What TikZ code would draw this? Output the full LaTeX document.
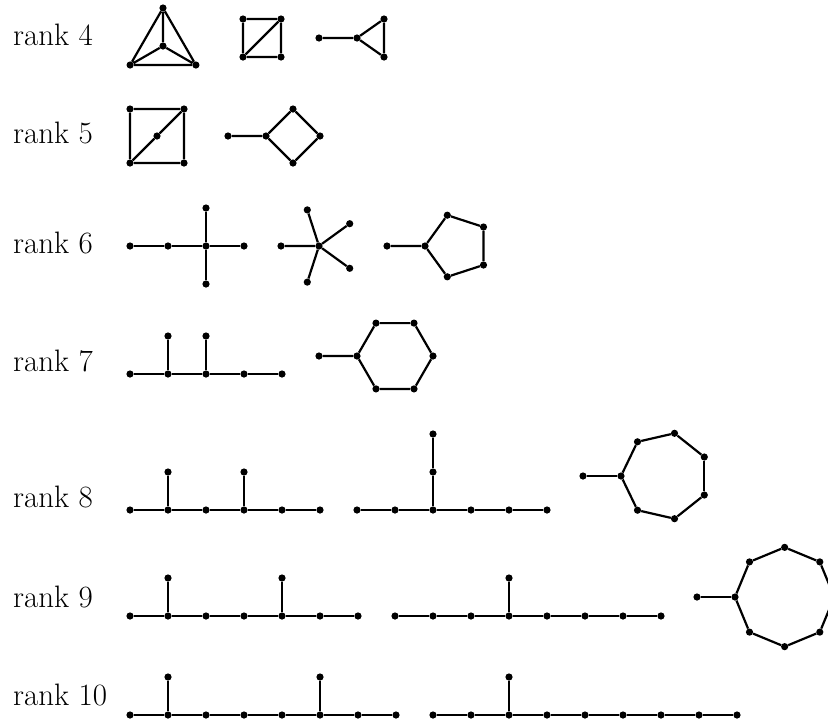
\documentclass[tikz,border=0pt]{standalone}
\tikzset{
  vtx/.style={circle, fill=black, draw=none, inner sep=0pt, minimum size=7.2pt},
  lnk/.style={line width=2.2pt, black},
  lab/.style={anchor=base west, inner sep=0pt, font=\fontsize{31}{37}\selectfont}
}
\begin{document}
\begin{tikzpicture}[x=1pt,y=-1pt]
\clip (0,0) rectangle (828,721);
% labels
\node[lab] (L4) at (13,45) {rank 4};
\node[lab] (L5) at (13,143) {rank 5};
\node[lab] (L6) at (13,253) {rank 6};
\node[lab] (L7) at (13,371) {rank 7};
\node[lab] (L8) at (13,507) {rank 8};
\node[lab] (L9) at (13,607) {rank 9};
\node[lab] (L10) at (13,705) {rank 10};

% ---------- rank 4 ----------
\node[vtx] (a0) at (163,46) {};
\node[vtx] (a1) at (163,8) {};
\node[vtx] (a2) at (130.1,65) {};
\node[vtx] (a3) at (195.9,65) {};
\draw[lnk] (a1)--(a2) (a2)--(a3) (a3)--(a1) (a0)--(a1) (a0)--(a2) (a0)--(a3);

\node[vtx] (b1) at (243,19) {};
\node[vtx] (b2) at (281,19) {};
\node[vtx] (b3) at (281,57) {};
\node[vtx] (b4) at (243,57) {};
\draw[lnk] (b1)--(b2) (b2)--(b3) (b3)--(b4) (b4)--(b1) (b4)--(b2);

\node[vtx] (c0) at (319,38) {};
\node[vtx] (c1) at (357,38) {};
\node[vtx] (c2) at (384,19) {};
\node[vtx] (c3) at (384,57) {};
\draw[lnk] (c0)--(c1) (c1)--(c2) (c2)--(c3) (c3)--(c1);

% ---------- rank 5 ----------
\node[vtx] (d1) at (130,109) {};
\node[vtx] (d2) at (184,109) {};
\node[vtx] (d3) at (184,163) {};
\node[vtx] (d4) at (130,163) {};
\node[vtx] (d0) at (157,136) {};
\draw[lnk] (d1)--(d2) (d2)--(d3) (d3)--(d4) (d4)--(d1) (d4)--(d0) (d0)--(d2);

\node[vtx] (f0) at (228,136) {};
\node[vtx] (f1) at (266,136) {};
\node[vtx] (f2) at (293,109) {};
\node[vtx] (f3) at (320,136) {};
\node[vtx] (f4) at (293,163) {};
\draw[lnk] (f0)--(f1) (f1)--(f2) (f2)--(f3) (f3)--(f4) (f4)--(f1);

% ---------- rank 6 ----------
\foreach \i in {1,...,4} \node[vtx] (g\i) at ({130+38*(\i-1)},246) {};
\node[vtx] (g5) at (206,208) {};
\node[vtx] (g6) at (206,284) {};
\draw[lnk] (g1)--(g2) (g2)--(g3) (g3)--(g4) (g5)--(g3) (g3)--(g6);

\node[vtx] (h0) at (281,246) {};
\node[vtx] (h1) at (319,246) {};
\node[vtx] (h2) at (307.3,209.9) {};
\node[vtx] (h3) at (349.7,223.7) {};
\node[vtx] (h4) at (349.7,268.3) {};
\node[vtx] (h5) at (307.3,282.1) {};
\draw[lnk] (h0)--(h1) (h1)--(h2) (h1)--(h3) (h1)--(h4) (h1)--(h5);

\node[vtx] (p0) at (387,246) {};
\node[vtx] (p1) at (425,246) {};
\node[vtx] (p2) at (447.3,215.2) {};
\node[vtx] (p3) at (483.5,227.0) {};
\node[vtx] (p4) at (483.5,265.0) {};
\node[vtx] (p5) at (447.3,276.8) {};
\draw[lnk] (p0)--(p1) (p1)--(p2) (p2)--(p3) (p3)--(p4) (p4)--(p5) (p5)--(p1);

% ---------- rank 7 ----------
\foreach \i in {1,...,5} \node[vtx] (k\i) at ({130+38*(\i-1)},374) {};
\node[vtx] (k6) at (168,336) {};
\node[vtx] (k7) at (206,336) {};
\foreach \i [count=\j from 2] in {1,...,4} \draw[lnk] (k\i)--(k\j);
\draw[lnk] (k6)--(k2) (k7)--(k3);

\node[vtx] (m0) at (319,356) {};
\node[vtx] (m1) at (357,356) {};
\node[vtx] (m2) at (376,323.1) {};
\node[vtx] (m3) at (414,323.1) {};
\node[vtx] (m4) at (433,356) {};
\node[vtx] (m5) at (414,388.9) {};
\node[vtx] (m6) at (376,388.9) {};
\draw[lnk] (m0)--(m1) (m1)--(m2) (m2)--(m3) (m3)--(m4) (m4)--(m5) (m5)--(m6) (m6)--(m1);

% ---------- rank 8 ----------
\foreach \i in {1,...,6} \node[vtx] (n\i) at ({130+38*(\i-1)},510) {};
\node[vtx] (n7) at (168,472) {};
\node[vtx] (n8) at (244,472) {};
\foreach \i [count=\j from 2] in {1,...,5} \draw[lnk] (n\i)--(n\j);
\draw[lnk] (n7)--(n2) (n8)--(n4);

\foreach \i in {1,...,6} \node[vtx] (o\i) at ({357+38*(\i-1)},510) {};
\node[vtx] (o7) at (433,472) {};
\node[vtx] (o8) at (433,434) {};
\foreach \i [count=\j from 2] in {1,...,5} \draw[lnk] (o\i)--(o\j);
\draw[lnk] (o8)--(o7) (o7)--(o3);

\node[vtx] (q0) at (583,476) {};
\node[vtx] (q1) at (621,476) {};
\node[vtx] (q2) at (637.5,441.8) {};
\node[vtx] (q3) at (674.5,433.3) {};
\node[vtx] (q4) at (704.3,457.0) {};
\node[vtx] (q5) at (704.3,495.0) {};
\node[vtx] (q6) at (674.5,518.7) {};
\node[vtx] (q7) at (637.5,510.2) {};
\draw[lnk] (q0)--(q1);
\foreach \i [count=\j from 2] in {1,...,6} \draw[lnk] (q\i)--(q\j);
\draw[lnk] (q7)--(q1);

% ---------- rank 9 ----------
\foreach \i in {1,...,7} \node[vtx] (s\i) at ({130+38*(\i-1)},616) {};
\node[vtx] (s8) at (168,578) {};
\node[vtx] (s9) at (282,578) {};
\foreach \i [count=\j from 2] in {1,...,6} \draw[lnk] (s\i)--(s\j);
\draw[lnk] (s8)--(s2) (s9)--(s5);

\foreach \i in {1,...,8} \node[vtx] (t\i) at ({395+38*(\i-1)},616) {};
\node[vtx] (t9) at (509,578) {};
\foreach \i [count=\j from 2] in {1,...,7} \draw[lnk] (t\i)--(t\j);
\draw[lnk] (t9)--(t4);

\node[vtx] (u0) at (697,597) {};
\node[vtx] (u1) at (735,597) {};
\node[vtx] (u2) at (749.5,561.9) {};
\node[vtx] (u3) at (784.65,547.35) {};
\node[vtx] (u4) at (819.8,561.9) {};
\node[vtx] (u5) at (834.3,597) {};
\node[vtx] (u6) at (819.8,632.1) {};
\node[vtx] (u7) at (784.65,646.65) {};
\node[vtx] (u8) at (749.5,632.1) {};
\draw[lnk] (u0)--(u1);
\foreach \i [count=\j from 2] in {1,...,7} \draw[lnk] (u\i)--(u\j);
\draw[lnk] (u8)--(u1);

% ---------- rank 10 ----------
\foreach \i in {1,...,8} \node[vtx] (w\i) at ({130+38*(\i-1)},715) {};
\node[vtx] (w9) at (168,677) {};
\node[vtx] (w10) at (320,677) {};
\foreach \i [count=\j from 2] in {1,...,7} \draw[lnk] (w\i)--(w\j);
\draw[lnk] (w9)--(w2) (w10)--(w6);

\foreach \i in {1,...,9} \node[vtx] (z\i) at ({433+38*(\i-1)},715) {};
\node[vtx] (z10) at (509,677) {};
\foreach \i [count=\j from 2] in {1,...,8} \draw[lnk] (z\i)--(z\j);
\draw[lnk] (z10)--(z3);
\end{tikzpicture}
\end{document}
